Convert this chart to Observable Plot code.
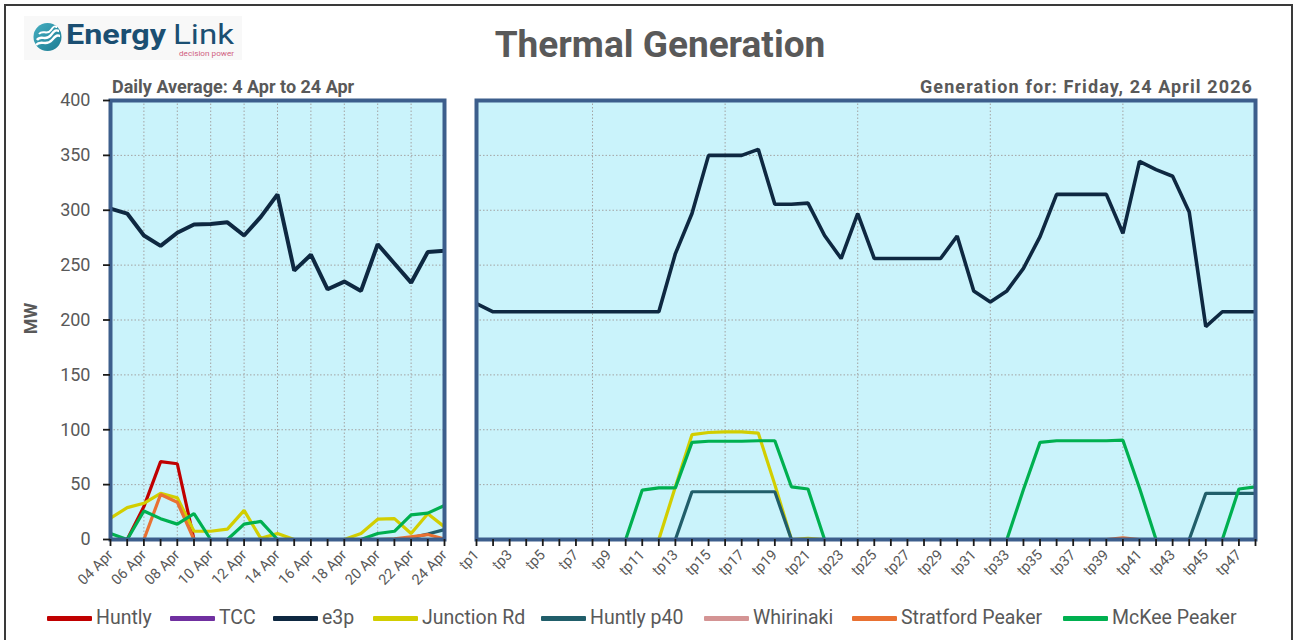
<!DOCTYPE html>
<html>
<head>
<meta charset="utf-8">
<script src="https://cdn.jsdelivr.net/npm/d3@7"></script>
<script src="https://cdn.jsdelivr.net/npm/@observablehq/plot@0.6"></script>
<style>
  html, body { margin: 0; padding: 0; background: #ffffff; }
  #page { position: relative; width: 1293px; height: 640px; overflow: hidden; font-family: Roboto, "Noto Sans", sans-serif; color: #595959; }
  #outer { position: absolute; left: 4px; top: 4px; width: 1285px; height: 700px; border: 2px solid #3a3a3a; }
  .abs { position: absolute; white-space: nowrap; }
  #title { left: 0; width: 1320px; top: 23px; text-align: center; font-size: 37px; font-weight: 700; }
  .sub { top: 76px; font-size: 18px; font-weight: 700; }
  #mw { left: 12px; top: 308px; width: 36px; text-align: center; font-size: 18px; font-weight: 700; transform: rotate(-90deg); }
  .sw { position: absolute; height: 5px; width: 45px; top: 616px; border-radius: 1px; }
  .lt { position: absolute; top: 606px; font-size: 19.5px; color: #595959; }
</style>
</head>
<body>
<div id="page">
  <div id="outer"></div>
  <svg class="abs" style="left:24px;top:16px" width="218" height="46">
    <rect x="0" y="0" width="218" height="44" fill="#f8f8f8"/>
    <defs>
      <linearGradient id="lg" x1="0" y1="0" x2="1" y2="1">
        <stop offset="0" stop-color="#45aec0"/>
        <stop offset="1" stop-color="#1d7c93"/>
      </linearGradient>
    </defs>
    <circle cx="23.5" cy="21" r="14" fill="url(#lg)"/>
    <path d="M13 24 C17 18, 22 26, 27 19 S33 15, 35 15" stroke="#fff" stroke-width="2.4" fill="none"/>
    <path d="M12 29 C17 23, 22 31, 28 24 S34 20, 36 20" stroke="#fff" stroke-width="2.4" fill="none"/>
    <path d="M15 18 C19 13, 23 20, 27 14 S31 11, 33 11" stroke="#fff" stroke-width="2" fill="none"/>
    <text x="42" y="28" font-family="Roboto" font-weight="700" font-size="28" fill="#1b4f72" textLength="100" lengthAdjust="spacingAndGlyphs">Energy</text>
    <text x="149" y="28" font-family="Roboto" font-weight="400" font-size="28" fill="#1b4f72" textLength="61" lengthAdjust="spacingAndGlyphs">Link</text>
    <text x="155" y="40" font-family="Roboto" font-size="7.5" fill="#d0607f" textLength="55" lengthAdjust="spacingAndGlyphs">decision power</text>
  </svg>
  <div id="title" class="abs">Thermal Generation</div>
  <div class="abs sub" style="left:112px">Daily Average: 4 Apr to 24 Apr</div>
  <div class="abs sub" style="right:40px; letter-spacing: 1.1px">Generation for: Friday, 24 April 2026</div>
  <div id="mw" class="abs">MW</div>
  <div id="left" class="abs" style="left:0;top:80px"></div>
  <div id="right" class="abs" style="left:460px;top:80px"></div>
  <div id="legend"></div>
</div>
<script>
// ---------- data ----------
const seriesNames = ["Huntly", "TCC", "e3p", "Junction Rd", "Huntly p40", "Whirinaki", "Stratford Peaker", "McKee Peaker"];
const seriesColors = ["#c00000", "#7030a0", "#0e2841", "#d2ce00", "#215e6a", "#d49494", "#e97132", "#00b050"];

const days = ["04 Apr","05 Apr","06 Apr","07 Apr","08 Apr","09 Apr","10 Apr","11 Apr","12 Apr","13 Apr","14 Apr",
              "15 Apr","16 Apr","17 Apr","18 Apr","19 Apr","20 Apr","21 Apr","22 Apr","23 Apr","24 Apr"];
const dayLabels = ["04 Apr","06 Apr","08 Apr","10 Apr","12 Apr","14 Apr","16 Apr","18 Apr","20 Apr","22 Apr","24 Apr"];

const dailyHuntly    = [0,0,30,71,69,0,0,0,0,0,0,0,0,0,0,0,0,0,0,0,0];
const dailyTCC       = [0,0,0,0,0,0,0,0,0,0,0,0,0,0,0,0,0,0,0,0,0];
const dailyE3p       = [301.5,297,277,267.5,279.5,287,287.5,289,277,294,314.5,245,259.5,228,235,226.5,269,251.5,234,262,263];
const dailyJunction  = [19.5,29,33,42,38,7.5,7.5,9.5,26.5,1,5.5,0,0,0,0,5.5,18.5,19,5.5,23.5,11.5];
const dailyHuntlyP40 = [0,0,0,0,0,0,0,0,0,0,0,0,0,0,0,0,0,0,1.5,5,9];
const dailyWhirinaki = [0,0,0,0,0,0,0,0,0,0,0,0,0,0,0,0,0,0,0,0,0];
const dailyStratford = [0,0,0,41,34,0,0,0,0,0,0,0,0,0,0,0,0,0.5,2.5,4.5,0.5];
const dailyMcKee     = [5.5,0,26,19,14,23.5,0,0,14,16.5,0,0,0,0,0,0,5.5,7.5,22.5,24,31];

const tps = ["tp1","tp2","tp3","tp4","tp5","tp6","tp7","tp8","tp9","tp10","tp11","tp12","tp13","tp14","tp15","tp16",
             "tp17","tp18","tp19","tp20","tp21","tp22","tp23","tp24","tp25","tp26","tp27","tp28","tp29","tp30","tp31","tp32",
             "tp33","tp34","tp35","tp36","tp37","tp38","tp39","tp40","tp41","tp42","tp43","tp44","tp45","tp46","tp47","tp48"];
const tpLabels = ["tp1","tp3","tp5","tp7","tp9","tp11","tp13","tp15","tp17","tp19","tp21","tp23",
                  "tp25","tp27","tp29","tp31","tp33","tp35","tp37","tp39","tp41","tp43","tp45","tp47"];
const tpGrid = ["tp8","tp16","tp24","tp32","tp40"];

const tpHuntly    = [0,0,0,0,0,0,0,0,0,0,0,0,0,0,0,0,0,0,0,0,0,0,0,0,0,0,0,0,0,0,0,0,0,0,0,0,0,0,0,0,0,0,0,0,0,0,0,0];
const tpTCC       = [0,0,0,0,0,0,0,0,0,0,0,0,0,0,0,0,0,0,0,0,0,0,0,0,0,0,0,0,0,0,0,0,0,0,0,0,0,0,0,0,0,0,0,0,0,0,0,0];
const tpE3p       = [215,207.5,207.5,207.5,207.5,207.5,207.5,207.5,207.5,207.5,207.5,207.5,260.5,297,350,350,
                     350,355.5,305.5,305.5,306.5,277,256,297,256,256,256,256,256,276.5,226.5,216.5,
                     226.5,247,276,314.5,314.5,314.5,314.5,279,344.5,337,331,298.5,194,207.5,207.5,207.5];
const tpJunction  = [0,0,0,0,0,0,0,0,0,0,0,0,48,95.5,97.5,98,98,97,50,0,1,0,0,0,0,0,0,0,0,0,0,0,0,0,0,0,0,0,0,0,0,0,0,0,0,0,0,0];
const tpHuntlyP40 = [0,0,0,0,0,0,0,0,0,0,0,0,0,43.5,43.5,43.5,43.5,43.5,43.5,0,0,0,0,0,0,0,0,0,0,0,0,0,0,0,0,0,0,0,0,0,0,0,0,0,42,42,42,42];
const tpWhirinaki = [0,0,0,0,0,0,0,0,0,0,0,0,0,0,0,0,0,0,0,0,0,0,0,0,0,0,0,0,0,0,0,0,0,0,0,0,0,0,0,0,0,0,0,0,0,0,0,0];
const tpStratford = [0,0,0,0,0,0,0,0,0,0,0,0,0,0,0,0,0,0,0,0,0,0,0,0,0,0,0,0,0,0,0,0,0,0,0,0,0,0,0,1.5,0,0,0,0,0,0,0,0];
const tpMcKee     = [0,0,0,0,0,0,0,0,0,0,45,47,47,88.5,89.5,89.5,89.5,90,90,48,46,0,0,0,0,0,0,0,0,0,0,0,
                     0,45.5,88.5,90,90,90,90,90.5,47,0,0,0,0,0,46,48];

const yTicks = [0,50,100,150,200,250,300,350,400];
const yGrid = [50,100,150,200,250,300,350];

const dailySeries = [dailyHuntly, dailyTCC, dailyE3p, dailyJunction, dailyHuntlyP40, dailyWhirinaki, dailyStratford, dailyMcKee];
const tpSeries = [tpHuntly, tpTCC, tpE3p, tpJunction, tpHuntlyP40, tpWhirinaki, tpStratford, tpMcKee];

// ---------- drawing ----------
const BG = "#caf3fb", FRAME = "#3c5e8c", GRID = "#a3a3a3", TICK = "#1a1a1a", TXT = "#595959";
const dotted = {stroke: GRID, strokeOpacity: 1, strokeDasharray: "1.5,2"};

function lineMarks(cats, seriesList, e3pWidth) {
  return seriesList.map((vals, s) =>
    Plot.line(cats.map((c, i) => ({i, v: vals[i]})), {
      x: "i", y: "v", stroke: seriesColors[s],
      strokeWidth: seriesNames[s] === "e3p" ? e3pWidth : 3.2,
      strokeLinejoin: "miter", strokeLinecap: "butt"
    })
  );
}

const common = {
  height: 530, marginTop: 20, marginBottom: 71,
  style: {fontFamily: "Roboto, sans-serif", color: TXT, background: "transparent", overflow: "visible"},
  y: {domain: [0, 400]}
};

const dayIdx = days.map((d, i) => i);
const left = Plot.plot({
  ...common,
  width: 460, marginLeft: 110, marginRight: 16,
  x: {type: "linear", domain: [0, days.length - 1]},
  marks: [
    Plot.frame({fill: BG}),
    Plot.gridY(yGrid, dotted),
    Plot.gridX(dayLabels.slice(1, -1).map(d => days.indexOf(d)), dotted),
    ...lineMarks(days, dailySeries, 4),
    Plot.frame({stroke: FRAME, strokeWidth: 4}),
    Plot.axisY(yTicks, {tickSize: 7, tickPadding: 13, fontSize: 18, stroke: TICK, strokeWidth: 1.8, fill: TXT, label: null}),
    Plot.axisX(dayIdx, {tickSize: 7, tickFormat: () => "", stroke: TICK, strokeWidth: 1.8, label: null}),
    Plot.axisX(dayLabels.map(d => days.indexOf(d)), {tickSize: 0, tickPadding: 13, tickRotate: -45, textAnchor: "end",
      fontSize: 14.5, fill: TXT, label: null, tickFormat: i => days[i]})
  ]
});
document.getElementById("left").appendChild(left);

const tpIdx = tps.map((d, i) => i);
const right = Plot.plot({
  ...common,
  y: {domain: [0, 400], axis: null},
  width: 833, marginLeft: 16, marginRight: 38,
  x: {type: "linear", domain: [0, tps.length - 1]},
  marks: [
    Plot.frame({fill: BG}),
    Plot.gridY(yGrid, dotted),
    Plot.gridX(tpGrid.map(t => tps.indexOf(t)), dotted),
    ...lineMarks(tps, tpSeries, 3.6),
    Plot.frame({stroke: FRAME, strokeWidth: 4}),
    Plot.axisX(tpIdx, {tickSize: 7, tickFormat: () => "", stroke: TICK, strokeWidth: 1.8, label: null}),
    Plot.axisX(tpLabels.map(t => tps.indexOf(t)), {tickSize: 0, tickPadding: 13, tickRotate: -45, textAnchor: "end",
      fontSize: 14.5, fill: TXT, label: null, tickFormat: i => tps[i]})
  ]
});
document.getElementById("right").appendChild(right);

// legend
const legendSwatchX = [47, 170, 273, 373, 541, 704, 852, 1063];
const legend = document.getElementById("legend");
seriesNames.forEach((name, i) => {
  const sw = document.createElement("div");
  sw.className = "sw";
  sw.style.left = legendSwatchX[i] + "px";
  sw.style.background = seriesColors[i];
  legend.appendChild(sw);
  const t = document.createElement("div");
  t.className = "lt";
  t.style.left = (legendSwatchX[i] + 49) + "px";
  t.textContent = name;
  legend.appendChild(t);
});
</script>
</body>
</html>
